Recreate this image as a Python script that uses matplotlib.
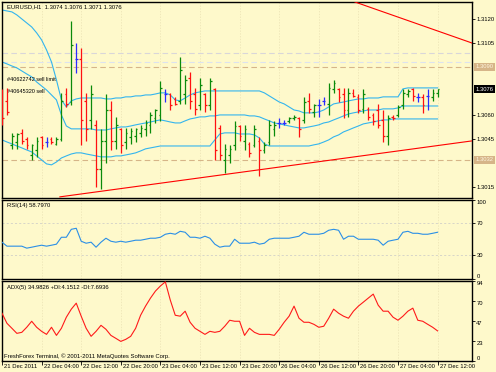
import numpy as np
import matplotlib.pyplot as plt

plt.rcParams['font.family'] = ['Liberation Sans', 'DejaVu Sans']
plt.rcParams['font.size'] = 4.2

BG = '#FEF9CB'
W, H = 496, 372

# EURUSD H1 bars
high = [1.3076, 1.3077, 1.3049, 1.3049, 1.3051, 1.3046, 1.3042, 1.3046, 1.3047, 1.3046,
        1.3046, 1.3046, 1.3074, 1.3077, 1.3119, 1.3105, 1.3102, 1.3074, 1.3079, 1.3057,
        1.3051, 1.3073, 1.3069, 1.3059, 1.3052, 1.3052, 1.3052, 1.3052, 1.3054, 1.3057,
        1.3062, 1.3064, 1.3081, 1.3076, 1.3074, 1.3071, 1.3096, 1.3085, 1.3087, 1.3077,
        1.3083, 1.3074, 1.3083, 1.3077, 1.3054, 1.3042, 1.3041, 1.3056, 1.3054, 1.3054,
        1.3043, 1.3054, 1.3046, 1.3043, 1.3057, 1.3056, 1.3058, 1.3057, 1.3059, 1.3060,
        1.3059, 1.3071, 1.3074, 1.3067, 1.3070, 1.3071, 1.3080, 1.3082, 1.3077, 1.3077,
        1.3077, 1.3076, 1.3073, 1.3076, 1.3065, 1.3061, 1.3067, 1.3063, 1.3060, 1.3060,
        1.3066, 1.3076, 1.3076, 1.3077, 1.3074, 1.3073, 1.3076, 1.3076, 1.3076]
low = [1.3054, 1.3060, 1.3039, 1.3039, 1.3042, 1.3039, 1.3032, 1.3034, 1.3039, 1.3040,
       1.3042, 1.3041, 1.3044, 1.3065, 1.3066, 1.3086, 1.3041, 1.3044, 1.3051, 1.3015,
       1.3014, 1.3030, 1.3038, 1.3039, 1.3036, 1.3039, 1.3042, 1.3043, 1.3046, 1.3047,
       1.3049, 1.3055, 1.3056, 1.3068, 1.3063, 1.3066, 1.3067, 1.3067, 1.3064, 1.3060,
       1.3063, 1.3062, 1.3063, 1.3032, 1.3032, 1.3024, 1.3030, 1.3038, 1.3044, 1.3038,
       1.3034, 1.3040, 1.3022, 1.3036, 1.3041, 1.3047, 1.3052, 1.3054, 1.3055, 1.3057,
       1.3046, 1.3055, 1.3061, 1.3059, 1.3059, 1.3066, 1.3060, 1.3074, 1.3068, 1.3058,
       1.3059, 1.3071, 1.3061, 1.3061, 1.3057, 1.3054, 1.3052, 1.3043, 1.3041, 1.3057,
       1.3059, 1.3064, 1.3071, 1.3069, 1.3068, 1.3061, 1.3063, 1.3069, 1.3071]
opn = [1.3074, 1.3069, 1.3041, 1.3043, 1.3049, 1.3045, 1.3035, 1.3038, 1.3046, 1.3043,
       1.3045, 1.3042, 1.3045, 1.3073, 1.3068, 1.3095, 1.3095, 1.3069, 1.3057, 1.3054,
       1.3026, 1.3044, 1.3063, 1.3044, 1.3051, 1.3043, 1.3046, 1.3047, 1.3049, 1.3051,
       1.3054, 1.3058, 1.3060, 1.3073, 1.3073, 1.3070, 1.3069, 1.3073, 1.3083, 1.3073,
       1.3066, 1.3073, 1.3066, 1.3076, 1.3052, 1.3032, 1.3035, 1.3041, 1.3053, 1.3044,
       1.3042, 1.3041, 1.3044, 1.3038, 1.3043, 1.3051, 1.3055, 1.3055, 1.3056, 1.3058,
       1.3058, 1.3057, 1.3069, 1.3062, 1.3066, 1.3069, 1.3067, 1.3076, 1.3076, 1.3073,
       1.3063, 1.3074, 1.3071, 1.3064, 1.3064, 1.3060, 1.3063, 1.3057, 1.3047, 1.3059,
       1.3060, 1.3066, 1.3073, 1.3076, 1.3071, 1.3071, 1.3072, 1.3071, 1.3074]
close = [1.3058, 1.3062, 1.3047, 1.3048, 1.3044, 1.3041, 1.3041, 1.3044, 1.3041, 1.3043,
         1.3043, 1.3045, 1.3069, 1.3067, 1.3104, 1.3095, 1.3057, 1.3051, 1.3073, 1.3026,
         1.3044, 1.3063, 1.3044, 1.3054, 1.3041, 1.3049, 1.3050, 1.3051, 1.3052, 1.3055,
         1.3060, 1.3063, 1.3077, 1.3073, 1.3066, 1.3067, 1.3088, 1.3082, 1.3069, 1.3064,
         1.3079, 1.3066, 1.3081, 1.3038, 1.3035, 1.3039, 1.3039, 1.3053, 1.3047, 1.3051,
         1.3036, 1.3051, 1.3038, 1.3041, 1.3054, 1.3054, 1.3055, 1.3055, 1.3058, 1.3059,
         1.3051, 1.3068, 1.3064, 1.3066, 1.3066, 1.3069, 1.3077, 1.3080, 1.3071, 1.3063,
         1.3074, 1.3072, 1.3063, 1.3073, 1.3059, 1.3056, 1.3054, 1.3047, 1.3058, 1.3058,
         1.3065, 1.3074, 1.3075, 1.3072, 1.3071, 1.3066, 1.3072, 1.3074, 1.3076]

# Bollinger bands
bb_upper = [1.31256, 1.31250, 1.31244, 1.31225, 1.31200, 1.31175, 1.31150, 1.31113, 1.31069, 1.31006,
            1.30931, 1.30819, 1.30694, 1.30650, 1.30688, 1.30700, 1.30706, 1.30706, 1.30706, 1.30706,
            1.30706, 1.30700, 1.30700, 1.30706, 1.30706, 1.30713, 1.30713, 1.30719, 1.30719, 1.30725,
            1.30725, 1.30731, 1.30738, 1.30738, 1.30725, 1.30694, 1.30688, 1.30706, 1.30725, 1.30738,
            1.30744, 1.30750, 1.30750, 1.30750, 1.30750, 1.30750, 1.30750, 1.30750, 1.30750, 1.30750,
            1.30750, 1.30750, 1.30750, 1.30738, 1.30719, 1.30700, 1.30681, 1.30669, 1.30650, 1.30631,
            1.30625, 1.30613, 1.30613, 1.30613, 1.30619, 1.30631, 1.30650, 1.30669, 1.30675, 1.30681,
            1.30688, 1.30694, 1.30700, 1.30700, 1.30706, 1.30706, 1.30706, 1.30713, 1.30713, 1.30713,
            1.30713, 1.30763, 1.30769, 1.30769, 1.30769, 1.30769, 1.30769, 1.30769, 1.30769]
bb_middle = [1.30931, 1.30919, 1.30906, 1.30894, 1.30875, 1.30856, 1.30838, 1.30806, 1.30781, 1.30756,
             1.30725, 1.30694, 1.30600, 1.30531, 1.30513, 1.30513, 1.30513, 1.30513, 1.30513, 1.30506,
             1.30506, 1.30506, 1.30513, 1.30519, 1.30525, 1.30525, 1.30531, 1.30538, 1.30544, 1.30550,
             1.30556, 1.30563, 1.30569, 1.30563, 1.30556, 1.30550, 1.30550, 1.30563, 1.30575, 1.30581,
             1.30588, 1.30588, 1.30594, 1.30594, 1.30600, 1.30600, 1.30600, 1.30600, 1.30600, 1.30600,
             1.30594, 1.30594, 1.30588, 1.30575, 1.30563, 1.30550, 1.30544, 1.30538, 1.30531, 1.30525,
             1.30519, 1.30519, 1.30525, 1.30531, 1.30538, 1.30550, 1.30556, 1.30569, 1.30581, 1.30594,
             1.30606, 1.30613, 1.30619, 1.30625, 1.30631, 1.30631, 1.30631, 1.30638, 1.30638, 1.30638,
             1.30644, 1.30656, 1.30656, 1.30656, 1.30656, 1.30656, 1.30656, 1.30656, 1.30656]
bb_lower = [1.30444, 1.30431, 1.30419, 1.30406, 1.30394, 1.30381, 1.30369, 1.30344, 1.30319, 1.30294,
            1.30288, 1.30306, 1.30331, 1.30344, 1.30356, 1.30363, 1.30363, 1.30356, 1.30350, 1.30344,
            1.30338, 1.30338, 1.30338, 1.30344, 1.30344, 1.30350, 1.30356, 1.30363, 1.30375, 1.30388,
            1.30394, 1.30400, 1.30406, 1.30406, 1.30406, 1.30406, 1.30406, 1.30406, 1.30406, 1.30406,
            1.30406, 1.30406, 1.30406, 1.30444, 1.30481, 1.30488, 1.30488, 1.30488, 1.30481, 1.30481,
            1.30481, 1.30475, 1.30456, 1.30419, 1.30406, 1.30406, 1.30406, 1.30406, 1.30406, 1.30406,
            1.30406, 1.30406, 1.30406, 1.30413, 1.30419, 1.30431, 1.30444, 1.30463, 1.30475, 1.30494,
            1.30506, 1.30519, 1.30531, 1.30544, 1.30550, 1.30556, 1.30563, 1.30569, 1.30569, 1.30575,
            1.30575, 1.30575, 1.30575, 1.30575, 1.30575, 1.30575, 1.30575, 1.30575, 1.30575]

rsi = [46.3, 41.3, 41.3, 41.3, 41.3, 38.8, 40.0, 41.3, 42.5, 41.3,
       42.5, 43.8, 52.5, 52.5, 62.5, 63.8, 47.5, 45.0, 46.3, 40.0,
       46.3, 51.3, 47.5, 46.3, 47.5, 46.3, 47.5, 48.8, 48.8, 50.0,
       51.3, 51.3, 52.5, 56.3, 57.5, 56.3, 60.0, 58.8, 52.5, 52.5,
       51.3, 53.8, 51.3, 43.8, 40.0, 41.3, 41.3, 50.0, 45.0, 45.0,
       45.0, 46.3, 43.8, 45.0, 50.0, 51.3, 51.3, 51.3, 51.3, 52.5,
       53.8, 58.8, 56.3, 56.3, 56.3, 57.5, 61.3, 62.5, 61.3, 50.0,
       53.8, 53.8, 50.0, 50.0, 50.0, 50.0, 48.8, 42.5, 47.5, 48.8,
       50.0, 58.8, 60.0, 57.5, 57.5, 56.3, 56.3, 57.5, 58.8]
adx = [55.9, 44.0, 38.1, 32.1, 33.3, 39.3, 46.4, 39.3, 34.5, 30.9,
       39.3, 29.7, 38.1, 51.2, 60.7, 67.8, 52.4, 38.1, 28.6, 34.5,
       41.6, 36.9, 29.7, 26.2, 22.6, 25.0, 28.6, 38.1, 53.5, 64.3,
       73.8, 82.1, 88.1, 93.0, 71.4, 53.5, 52.4, 58.3, 45.2, 38.1,
       34.5, 30.9, 34.5, 33.3, 34.5, 40.5, 47.6, 46.4, 46.4, 29.7,
       38.1, 33.3, 30.9, 30.9, 30.9, 29.7, 36.9, 45.2, 52.4, 64.3,
       50.0, 45.2, 45.2, 42.8, 39.3, 40.5, 50.0, 60.7, 55.9, 52.4,
       50.0, 58.3, 64.3, 69.0, 73.8, 78.5, 65.4, 58.3, 58.3, 51.2,
       47.6, 52.4, 58.3, 61.9, 47.6, 46.4, 42.8, 39.3, 35.0]

# trend lines (bar index, price)
trend_upper_x, trend_upper_p = [71.3, 95.0], [1.31306, 1.31049]
trend_lower_x, trend_lower_p = [11.7, 95.0], [1.30088, 1.30438]

date_labels = ['21 Dec 2011', '22 Dec 04:00', '22 Dec 12:00', '22 Dec 20:00', '23 Dec 04:00',
               '23 Dec 12:00', '23 Dec 20:00', '26 Dec 04:00', '26 Dec 12:00', '26 Dec 20:00',
               '27 Dec 04:00', '27 Dec 12:00']
price_ticks = [1.3120, 1.3105, 1.3060, 1.3045, 1.3015]

n = len(close)
idx = np.arange(n)
high, low, opn, close = map(np.array, (high, low, opn, close))

fig = plt.figure(figsize=(W / 100, H / 100), dpi=100, facecolor=BG)


def px_axes(l, t, r, b):
    ax = fig.add_axes([l / W, 1 - b / H, (r - l) / W, (b - t) / H])
    ax.set_facecolor(BG)
    for s in ax.spines.values():
        s.set_color('black')
        s.set_linewidth(1.0)
    ax.set_xlim(-0.1, 94.85)
    ax.yaxis.tick_right()
    ax.tick_params(axis='y', length=2, width=0.6, pad=1.5, labelsize=4.2)
    ax.tick_params(axis='x', length=0, labelbottom=False)
    for k in range(0, n, 8):
        ax.axvline(k, color='#EAE2B4', lw=0.5, ls=(0, (2, 2)), zorder=0)
    return ax


ax1 = px_axes(1.5, 1.5, 471.5, 197.5)
ax2 = px_axes(1.5, 199.5, 471.5, 279)
ax3 = px_axes(1.5, 281, 471.5, 360.5)

# price panel
ax1.set_ylim(1.30084, 1.31309)
ax1.set_yticks(price_ticks)
ax1.set_yticklabels(['%.4f' % v for v in price_ticks])

ax1.axhline(1.3099, color='#D9D6D9', lw=0.8, ls=(0, (5, 3)), zorder=1)
ax1.axhline(1.3093, color='#DCE2EE', lw=0.8, ls=(0, (5, 3)), zorder=1)
ax1.axhline(1.3090, color='#D6B588', lw=0.8, ls=(0, (5, 3)), zorder=1)
ax1.axhline(1.3032, color='#D6B588', lw=0.8, ls=(0, (5, 3)), zorder=1)

for band in (bb_upper, bb_middle, bb_lower):
    ax1.plot(idx, band, color='#33B5EE', lw=0.8, zorder=2)

ax1.plot(trend_upper_x, trend_upper_p, color='#FF0000', lw=0.8, zorder=3)
ax1.plot(trend_lower_x, trend_lower_p, color='#FF0000', lw=0.8, zorder=3)

cols = np.where(close > opn + 1e-9, '#0A8A0A', np.where(close < opn - 1e-9, '#FF1010', '#2A2AFF'))
ax1.vlines(idx, low, high, colors=cols, lw=0.9, zorder=4)
ax1.hlines(opn, idx - 0.35, idx, colors=cols, lw=0.9, zorder=4)
ax1.hlines(close, idx, idx + 0.35, colors=cols, lw=0.9, zorder=4)

ax1.text(5 / 470, 1 - 5 / 196, 'EURUSD,H1  1.3074 1.3076 1.3071 1.3076', transform=ax1.transAxes,
         va='center', ha='left', fontsize=4.2)
ax1.text(5 / 470, 1 - 78 / 196, '#40622742 sell limit', transform=ax1.transAxes, va='center', fontsize=4.0)
ax1.text(5 / 470, 1 - 90 / 196, '#40645320 sell', transform=ax1.transAxes, va='center', fontsize=4.0)

for val, fc, tc in [(1.3090, '#D6B588', '#FFF6E0'), (1.3076, 'black', 'white'), (1.3032, '#D6B588', '#FFF6E0')]:
    ax1.annotate('%.4f' % val, xy=(1, val), xycoords=('axes fraction', 'data'), xytext=(3, 0),
                 textcoords='offset points', va='center', ha='left', fontsize=4.2, color=tc,
                 bbox=dict(boxstyle='square,pad=0.25', fc=fc, ec='none'), annotation_clip=False)

# RSI panel
ax2.set_ylim(0, 100)
ax2.set_yticks([100, 70, 30, 0])
ax2.set_yticklabels(['100', '70', '30', '0'])
for lab, va in zip(ax2.get_yticklabels(), ['top', 'center', 'center', 'bottom']):
    lab.set_va(va)
for v in (70, 30):
    ax2.axhline(v, color='#C8C8C8', lw=0.5, ls=(0, (3, 3)), zorder=1)
ax2.plot(idx, rsi, color='#2B8FE6', lw=0.8, zorder=3)
ax2.text(5 / 470, 1 - 6 / 80, 'RSI(14) 58.7970', transform=ax2.transAxes, va='center', fontsize=4.2)

# ADX panel
ax3.set_ylim(0, 94)
ax3.set_yticks([94, 70.5, 47, 23.5, 0])
ax3.set_yticklabels(['94', '70', '47', '23', '0'])
for lab, va in zip(ax3.get_yticklabels(), ['top', 'top', 'top', 'top', 'bottom']):
    lab.set_va(va)
ax3.plot(idx, adx, color='#FF1A1A', lw=0.8, zorder=3)
ax3.text(5 / 470, 1 - 6 / 79, 'ADX(5) 34.9826 +DI:4.1512 -DI:7.6936', transform=ax3.transAxes,
         va='center', fontsize=4.2)
ax3.text(3 / 470, 4 / 79, 'FreshForex Terminal, \u00a9 2001-2011 MetaQuotes Software Corp.',
         transform=ax3.transAxes, va='center', fontsize=4.2)

ax3.set_xticks(np.arange(0, n, 8))
ax3.tick_params(axis='x', length=3, width=0.6, direction='out')
for k, lab in zip(np.arange(0, n, 8), date_labels):
    ax3.text(k + 0.4, -5.5 / 79.5, lab, ha='left', va='center', fontsize=4.2,
             transform=ax3.get_xaxis_transform(), clip_on=False)

fig.savefig('out.png', dpi=100, facecolor=BG)
